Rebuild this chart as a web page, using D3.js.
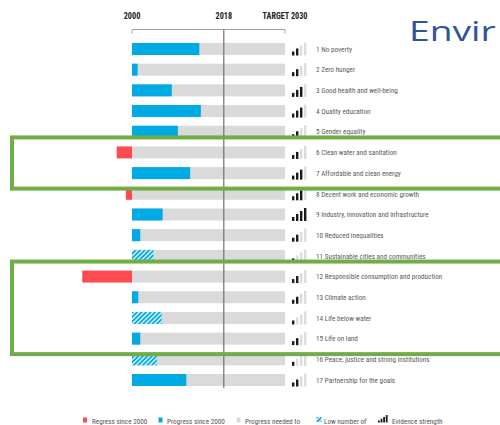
<!DOCTYPE html>
<html><head><meta charset="utf-8">
<script src="https://cdn.jsdelivr.net/npm/d3@7"></script>
<style>
html,body{margin:0;padding:0;background:#fff;overflow:hidden}
svg{display:block}
</style></head>
<body>
<svg id="c" width="500" height="425"></svg>
<script>
const goals = ["1 No poverty","2 Zero hunger","3 Good health and well-being","4 Quality education","5 Gender equality","6 Clean water and sanitation","7 Affordable and clean energy","8 Decent work and economic growth","9 Industry, innovation and infrastructure","10 Reduced inequalities","11 Sustainable cities and communities","12 Responsible consumption and production","13 Climate action","14 Life below water","15 Life on land","16 Peace, justice and strong institutions","17 Partnership for the goals"];
const progress = [0.44,0.037,0.26,0.45,0.30,-0.10,0.38,-0.04,0.20,0.054,0.14,-0.325,0.041,0.194,0.054,0.163,0.355];
const lowData = [0,0,0,0,0,0,0,0,0,0,1,0,0,1,0,1,0];
const evidence = [2,2,3,3,2,2,3,3,4,2,1,2,2,1,2,1,2];
const yearTicks = [{v:0,label:"2000"},{v:0.6,label:"2018"},{v:1,label:"TARGET 2030"}];
const legendItems = ["Regress since 2000","Progress since 2000","Progress needed to","Low number of","Evidence strength"];
const highlightGroups = [["6 Clean water and sanitation","7 Affordable and clean energy"],["12 Responsible consumption and production","15 Life on land"]];

const RED="#ff4a52", BLUE="#00aae2", GREY="#dadada", GREEN="#70ad47";
const svg = d3.select("#c");
const defs = svg.append("defs");
const pat = defs.append("pattern").attr("id","hatch").attr("patternUnits","userSpaceOnUse")
  .attr("width",3.2).attr("height",3.2).attr("patternTransform","rotate(45)");
pat.append("rect").attr("width",3.2).attr("height",3.2).attr("fill","#d4effa");
pat.append("rect").attr("width",1.7).attr("height",3.2).attr("fill",BLUE);

const x = d3.scaleLinear().domain([0,1]).range([132,285]);
const y = d3.scaleBand().domain(goals).range([38.65,390.35]).padding(0);
const cy = d => y(d)+y.step()/2;
const bh = 12;
const font = "'Liberation Sans Narrow','Roboto Condensed','Liberation Sans',Arial,sans-serif";

// header
svg.append("g").selectAll("text").data(yearTicks).join("text")
  .attr("x",d=>x(d.v)).attr("y",19).attr("text-anchor","middle")
  .attr("font-family",font).attr("font-weight","bold").attr("font-size",8.2).attr("fill","#222")
  .text(d=>d.label);
svg.append("path").attr("d",`M${x(0)},33.5V29.5H${x(1)}V33.5`).attr("fill","none").attr("stroke","#999").attr("stroke-width",0.9);

// background bars
const rows = svg.append("g");
rows.selectAll("rect.bg").data(goals).join("rect").attr("class","bg")
  .attr("x",x(0)).attr("width",x(1)-x(0)).attr("y",d=>cy(d)-bh/2).attr("height",bh).attr("fill",GREY);
rows.selectAll("rect.val").data(goals).join("rect").attr("class","val")
  .attr("x",(d,i)=>x(Math.min(0,progress[i]))).attr("width",(d,i)=>Math.abs(x(progress[i])-x(0)))
  .attr("y",d=>cy(d)-bh/2).attr("height",bh)
  .attr("fill",(d,i)=>progress[i]<0?RED:(lowData[i]?"url(#hatch)":BLUE));

// 2018 line
svg.append("line").attr("x1",x(0.6)).attr("x2",x(0.6)).attr("y1",29.5).attr("y2",388)
  .attr("stroke","#707070").attr("stroke-width",1.2);

// evidence icons
function evIcon(g, n, cx0, base){
  [0,1,2,3].forEach(k=>{
    const h = 4+k*3;
    g.append("rect").attr("x",cx0+k*4).attr("y",base-h).attr("width",2.4).attr("height",h)
      .attr("fill",k<n?"#1a1a1a":"#dcdcdc");
  });
}
goals.forEach((d,i)=>{ evIcon(svg.append("g"), evidence[i], 292, cy(d)+6.5); });

// labels
svg.append("g").selectAll("text").data(goals).join("text")
  .attr("x",316).attr("y",d=>cy(d)+2.7)
  .attr("font-family",font).attr("font-size",7.2).attr("fill","#5a5a5a")
  .text(d=>d);

// highlight boxes
highlightGroups.forEach(([a,b])=>{
  const top = cy(a)-bh/2-9, bot = cy(b)+bh/2+9.5;
  svg.append("rect").attr("x",12).attr("y",top).attr("width",520).attr("height",bot-top)
    .attr("fill","none").attr("stroke",GREEN).attr("stroke-width",4);
});

// title
svg.append("text").attr("transform","translate(409,41) scale(1.33,1)")
  .attr("font-family","'Open Sans','Noto Sans',sans-serif").attr("font-weight",400)
  .attr("font-size",28).attr("fill","#2f5597").text("Envir");

// legend
const lg = svg.append("g").attr("font-family",font).attr("font-size",7.2).attr("fill","#555");
const lx = [92,167,245,324,392];
lg.append("rect").attr("x",83).attr("y",417.5).attr("width",4).attr("height",5).attr("fill",RED);
lg.append("rect").attr("x",158.5).attr("y",417.5).attr("width",4).attr("height",5).attr("fill",BLUE);
lg.append("rect").attr("x",236.5).attr("y",417.5).attr("width",4).attr("height",5).attr("fill",GREY);
lg.append("rect").attr("x",316.5).attr("y",417).attr("width",5).attr("height",5).attr("fill","url(#hatch)");
[0,1,2,3].forEach(k=>{const h=2+k*1.8; lg.append("rect").attr("x",378+k*2.6).attr("y",422.5-h).attr("width",1.8).attr("height",h).attr("fill","#1a1a1a");});
lg.selectAll("text").data(legendItems).join("text").attr("x",(d,i)=>lx[i]).attr("y",423.5).text(d=>d);
</script>
</body></html>
